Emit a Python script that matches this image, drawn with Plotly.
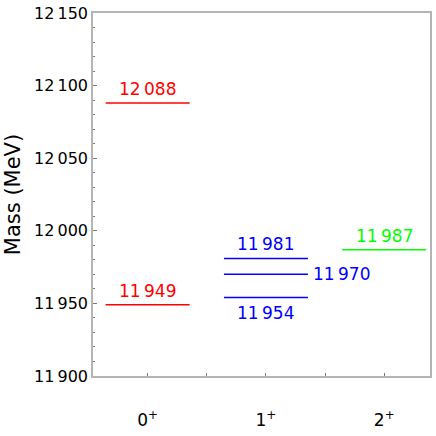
import plotly.graph_objects as go

# ---- data ----
categories = ["0<sup>+</sup>", "1<sup>+</sup>", "2<sup>+</sup>"]
masses_0p = [12088, 11949]
masses_1p = [11981, 11970, 11954]
masses_2p = [11987]
label_side_0p = ["above", "above"]
label_side_1p = ["above", "right", "below"]
label_side_2p = ["above"]
colors = ["#ff0000", "#0000ff", "#00ff00"]
ytick_vals = [11900, 11950, 12000, 12050, 12100, 12150]
ytick_text = ["11\u2009900", "11\u2009950", "12\u2009000", "12\u2009050", "12\u2009100", "12\u2009150"]

FONT = "DejaVu Sans"
HALF = 0.355

def fmt(v):
    s = str(v)
    return s[:2] + "\u2009" + s[2:]

fig = go.Figure()
groups = [(masses_0p, label_side_0p), (masses_1p, label_side_1p), (masses_2p, label_side_2p)]
for i, (ms, sides) in enumerate(groups):
    xc = i + 1
    for m, side in zip(ms, sides):
        fig.add_trace(go.Scatter(x=[xc - HALF, xc + HALF], y=[m, m], mode="lines",
                                 line=dict(color=colors[i], width=1.5),
                                 showlegend=False, hoverinfo="skip"))
        if side == "above":
            fig.add_annotation(x=xc, y=m, text=fmt(m), showarrow=False, yanchor="bottom",
                               yshift=2, font=dict(family=FONT, size=17, color=colors[i]))
        elif side == "below":
            fig.add_annotation(x=xc, y=m, text=fmt(m), showarrow=False, yanchor="top",
                               yshift=-3, font=dict(family=FONT, size=17, color=colors[i]))
        else:
            fig.add_annotation(x=xc + HALF, y=m, text=fmt(m), showarrow=False, xanchor="left",
                               xshift=3, font=dict(family=FONT, size=17, color=colors[i]))

axis_color = "#b4b4b4"
fig.update_layout(
    width=436, height=436,
    margin=dict(l=93, r=4, t=12, b=60),
    paper_bgcolor="white", plot_bgcolor="white",
    font=dict(family=FONT, size=16, color="black"),
    xaxis=dict(range=[0.538, 3.387], tickvals=[1, 2, 3], ticktext=categories,
               ticks="inside", ticklen=3, tickcolor="#777", showgrid=False, zeroline=False,
               showline=True, linecolor=axis_color, linewidth=1.5, mirror=True,
               tickfont=dict(family=FONT, size=17), ticklabelstandoff=28,
               minor=dict(tickvals=[1.5, 2.5], ticks="inside", ticklen=3, tickcolor="#777")),
    yaxis=dict(range=[11900, 12150], tickvals=ytick_vals, ticktext=ytick_text,
               ticks="inside", ticklen=4, tickcolor="#777", showgrid=False, zeroline=False,
               showline=True, linecolor=axis_color, linewidth=1.5, mirror=True,
               tickfont=dict(family=FONT, size=16),
               title=dict(text="Mass (MeV)", font=dict(family=FONT, size=21), standoff=8),
               minor=dict(dtick=10, ticks="inside", ticklen=2, tickcolor="#777")),
)
fig.write_html("out.html", config={"displayModeBar": False},
               post_script="document.body.style.margin='0';")
